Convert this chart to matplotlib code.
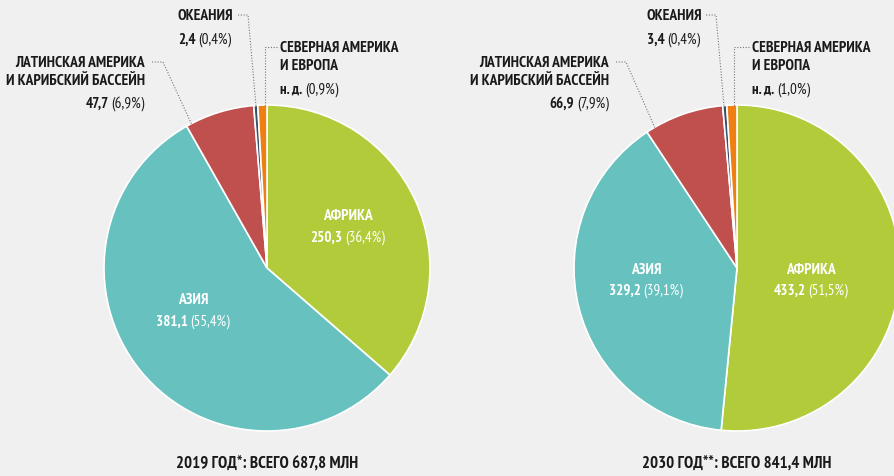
import matplotlib
matplotlib.use("Agg")
import matplotlib.pyplot as plt

regions = ["АФРИКА", "АЗИЯ", "ЛАТИНСКАЯ АМЕРИКА\nИ КАРИБСКИЙ БАССЕЙН", "ОКЕАНИЯ", "СЕВЕРНАЯ АМЕРИКА\nИ ЕВРОПА"]
values_2019 = ["250,3", "381,1", "47,7", "2,4", "н. д."]
shares_2019 = [36.4, 55.4, 6.9, 0.4, 0.9]
values_2030 = ["433,2", "329,2", "66,9", "3,4", "н. д."]
shares_2030 = [51.5, 39.1, 7.9, 0.4, 1.0]
titles = ["2019 ГОД*: ВСЕГО 687,8 МЛН", "2030 ГОД**: ВСЕГО 841,4 МЛН"]
colors = ["#b1cb3b", "#66c1bf", "#c0504e", "#3b4f6b", "#f07f12"]

W, H = 895, 476
BG = "#f0f0f0"
FONT = ["PT Sans Narrow", "DejaVu Sans"]
plt.rcParams["font.family"] = FONT

fig = plt.figure(figsize=(W / 100, H / 100), dpi=100, facecolor=BG)
ax = fig.add_axes([0, 0, 1, 1])
ax.set_facecolor(BG)

def Y(y):
    return H - y

def pct(s):
    return f"({s:.1f}%)".replace(".", ",")

centers = [(267, 268), (737, 268)]
R = 163
for (cx, cy), shares in zip(centers, [shares_2019, shares_2030]):
    ax.pie(shares, colors=colors, startangle=90, counterclock=False,
           center=(cx, Y(cy)), radius=R, frame=True,
           wedgeprops=dict(edgecolor="white", linewidth=1.2))

ax.set_xlim(0, W)
ax.set_ylim(0, H)
ax.set_aspect("equal", adjustable="box")
ax.axis("off")

fig.canvas.draw()
renderer = fig.canvas.get_renderer()

VS = 10.8
def two_part(x, y, bold, normal, ha, color="#1a1a1a", size=VS):
    t1 = ax.text(0, Y(y), bold, fontsize=size, fontweight="bold", color=color, va="center")
    t2 = ax.text(0, Y(y), normal, fontsize=size, color=color, va="center")
    w1 = t1.get_window_extent(renderer).width
    w2 = t2.get_window_extent(renderer).width
    gap = 3
    tot = w1 + gap + w2
    if ha == "center":
        x0 = x - tot / 2
    elif ha == "right":
        x0 = x - tot
    else:
        x0 = x
    t1.set_x(x0)
    t2.set_x(x0 + w1 + gap)

NS = 11.2
NAME = dict(fontsize=NS, fontweight="bold", color="#1a1a1a", va="center", linespacing=1.45)
INS = dict(fontsize=NS, fontweight="bold", color="white", va="center", ha="center")
dots = dict(color="#777777", linewidth=0.8, linestyle=(0, (1, 1.5)))
TS = 12.1

# ---- Left pie labels
ax.text(348, Y(216), regions[0], **INS)
two_part(348, 238, values_2019[0], pct(shares_2019[0]), "center", color="white")
ax.text(193, Y(300), regions[1], **INS)
two_part(193, 322, values_2019[1], pct(shares_2019[1]), "center", color="white")

ax.text(145, Y(72), regions[2], ha="right", **NAME)
two_part(145, 104, values_2019[2], pct(shares_2019[2]), "right")
ax.plot([152, 163, 192], [Y(62), Y(62), Y(125)], **dots)

ax.text(178, Y(16), regions[3], ha="left", **NAME)
two_part(178, 40, values_2019[3], pct(shares_2019[3]), "left")
ax.plot([238, 248, 256], [Y(15), Y(15), Y(106)], **dots)

ax.text(280, Y(57), regions[4], ha="left", **NAME)
two_part(280, 90, values_2019[4], pct(shares_2019[4]), "left")
ax.plot([277, 265, 265], [Y(47), Y(47), Y(106)], **dots)

ax.text(267, Y(465), titles[0], ha="center", va="center", fontsize=TS, fontweight="bold", color="#1a1a1a")

# ---- Right pie labels
ax.text(811, Y(270), regions[0], **INS)
two_part(811, 291, values_2030[0], pct(shares_2030[0]), "center", color="white")
ax.text(646, Y(270), regions[1], **INS)
two_part(646, 291, values_2030[1], pct(shares_2030[1]), "center", color="white")

ax.text(609, Y(72), regions[2], ha="right", **NAME)
two_part(609, 104, values_2030[2], pct(shares_2030[2]), "right")
ax.plot([616, 626, 655], [Y(62), Y(62), Y(128)], **dots)

ax.text(647, Y(16), regions[3], ha="left", **NAME)
two_part(647, 40, values_2030[3], pct(shares_2030[3]), "left")
ax.plot([706, 716, 724], [Y(15), Y(15), Y(106)], **dots)

ax.text(752, Y(57), regions[4], ha="left", **NAME)
two_part(752, 90, values_2030[4], pct(shares_2030[4]), "left")
ax.plot([749, 734, 734], [Y(47), Y(47), Y(106)], **dots)

ax.text(737, Y(465), titles[1], ha="center", va="center", fontsize=TS, fontweight="bold", color="#1a1a1a")

fig.savefig("out.png", dpi=100, facecolor=BG)
